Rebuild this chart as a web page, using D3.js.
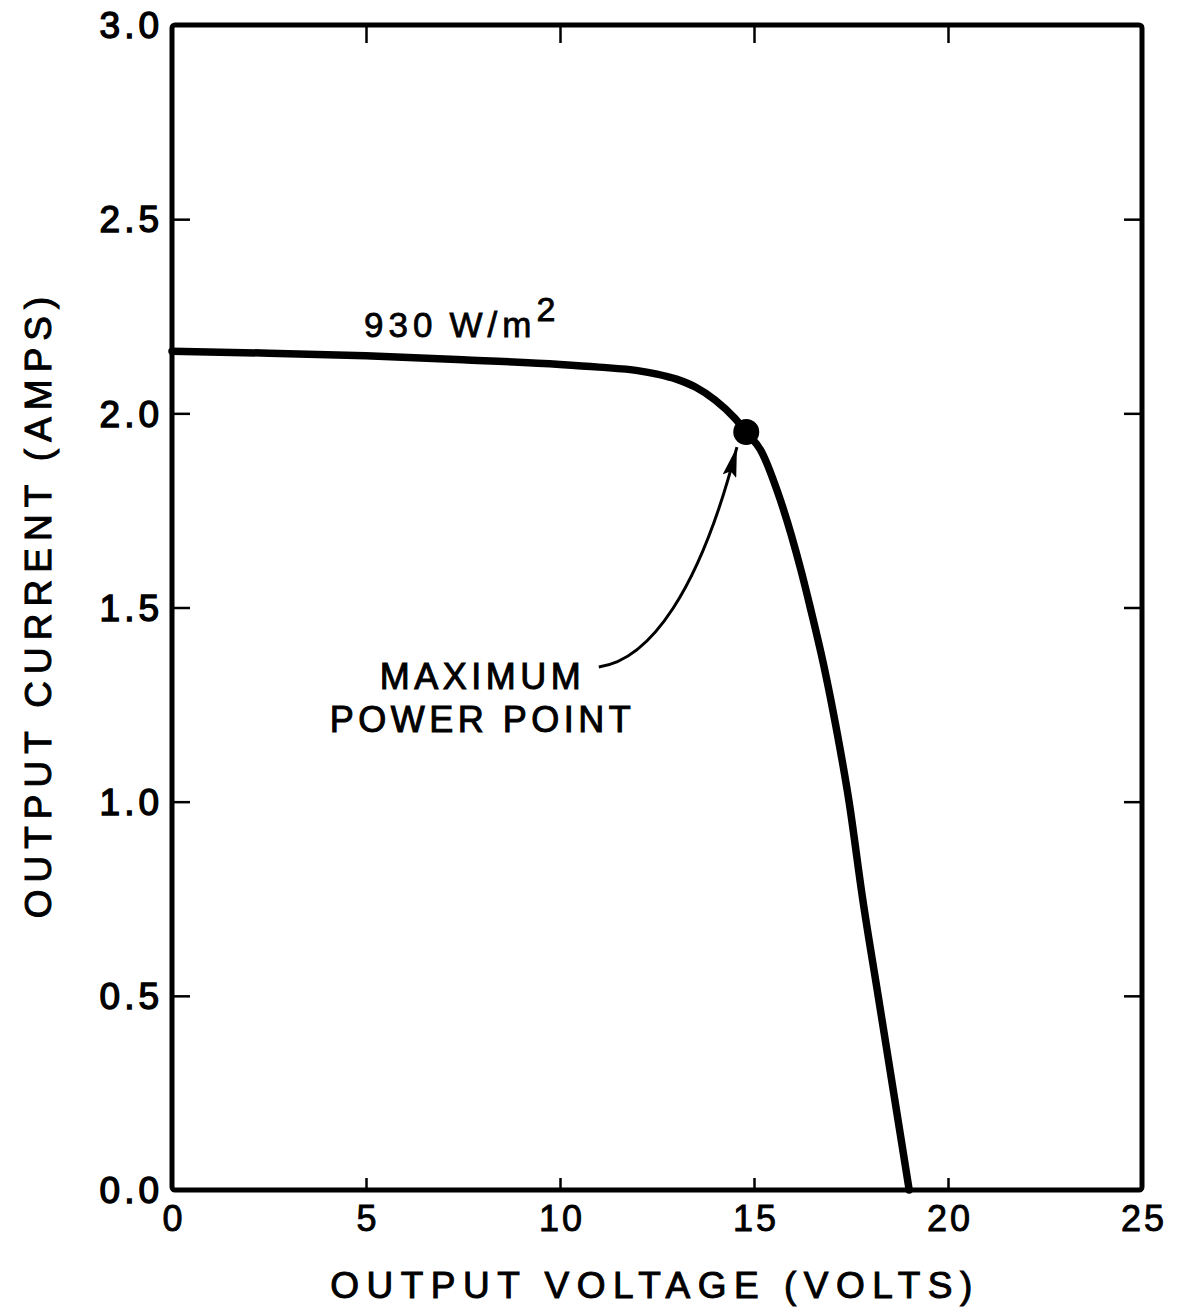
<!DOCTYPE html>
<html>
<head>
<meta charset="utf-8">
<script src="https://cdn.jsdelivr.net/npm/d3@7"></script>
<style>
  body { margin: 0; background: #fff; }
  text { font-family: "Liberation Sans", Arial, Helvetica, sans-serif; fill: #000; }
</style>
</head>
<body>
<svg id="chart" width="1178" height="1312"></svg>
<script>
// I-V curve (volts, amps)
const voltage = [0, 2.5, 5, 7.5, 10, 11, 12, 12.5, 13, 13.5, 14, 14.5, 14.8, 15.2, 15.6, 16.2, 16.45, 16.8, 17.1, 17.45, 17.8, 18.2, 18.6, 19.0];
const current = [2.16, 2.155, 2.148, 2.138, 2.126, 2.119, 2.11, 2.101, 2.088, 2.067, 2.034, 1.988, 1.952, 1.9, 1.8, 1.6, 1.5, 1.35, 1.2, 1.0, 0.75, 0.5, 0.25, 0.0];

const xTicks = [0, 5, 10, 15, 20, 25];
const yTicks = [0, 0.5, 1.0, 1.5, 2.0, 2.5, 3.0];

const maxPower = { v: 14.8, i: 1.952 };
const irradianceLabel = { v: 4.95, i: 2.197, text: '930\u2009W/m', sup: '2' };
const mppLabel = { v: 8.0, i: 1.29, lines: ['MAXIMUM', 'POWER POINT'] };
// arrow from the label up to the dot, cubic in data units
const arrowPts = [[11.0, 1.347], [12.32, 1.365], [13.61, 1.545], [14.56, 1.913]];

const svg = d3.select('#chart');
const plotL = 172, plotR = 1142, plotT = 25, plotB = 1190;

const x = d3.scaleLinear().domain([0, 25]).range([plotL, plotR]);
const y = d3.scaleLinear().domain([0, 3]).range([plotB, plotT]);

// heavier look for the old photocopied lettering
const ink = (sel, w) => sel.attr('stroke', '#000').attr('stroke-width', w).attr('paint-order', 'stroke');

// ticks: inward on all four sides
const tickW = 2.5;
const axisLeft = d3.axisLeft(y).tickValues(yTicks).tickSize(-18).tickFormat('');
const axisRight = d3.axisRight(y).tickValues(yTicks).tickSize(-18).tickFormat('');
const axisTop = d3.axisTop(x).tickValues(xTicks).tickSize(-18).tickFormat('');
const axisBottom = d3.axisBottom(x).tickValues(xTicks).tickSize(-12).tickFormat('');

[[axisLeft, `translate(${plotL},0)`], [axisRight, `translate(${plotR},0)`],
 [axisTop, `translate(0,${plotT})`], [axisBottom, `translate(0,${plotB})`]].forEach(([ax, tr]) => {
  const g = svg.append('g').attr('transform', tr).call(ax);
  g.select('.domain').remove();
  g.selectAll('line').attr('stroke', '#000').attr('stroke-width', tickW);
});

// frame
svg.append('rect')
  .attr('x', plotL).attr('y', plotT)
  .attr('width', plotR - plotL).attr('height', plotB - plotT)
  .attr('rx', 3)
  .attr('fill', 'none').attr('stroke', '#000').attr('stroke-width', 5);

// tick labels
svg.append('g').selectAll('text')
  .data(yTicks).enter().append('text')
  .attr('x', plotL - 9).attr('y', (d) => y(d))
  .attr('dy', '0.36em')
  .attr('text-anchor', 'end')
  .style('font-size', '37px').style('letter-spacing', '4px')
  .text((d) => d.toFixed(1))
  .call(ink, 1.4);

svg.append('g').selectAll('text')
  .data(xTicks).enter().append('text')
  .attr('x', (d) => x(d) + 2).attr('y', plotB + 41)
  .attr('text-anchor', 'middle')
  .style('font-size', '36px').style('letter-spacing', '3px')
  .text((d) => d)
  .call(ink, 0.9);

// axis titles
svg.append('text')
  .attr('x', 655).attr('y', 1298)
  .attr('text-anchor', 'middle')
  .style('font-size', '37px').style('letter-spacing', '7.5px')
  .text('OUTPUT VOLTAGE (VOLTS)')
  .call(ink, 1.0);

svg.append('text')
  .attr('transform', 'translate(51, 604) rotate(-90)')
  .attr('text-anchor', 'middle')
  .style('font-size', '37px').style('letter-spacing', '7px')
  .text('OUTPUT CURRENT (AMPS)')
  .call(ink, 1.0);

// the curve
const pts = voltage.map((v, k) => [v, current[k]]);
svg.append('path')
  .datum(pts)
  .attr('d', d3.line().x((d) => x(d[0])).y((d) => y(d[1])).curve(d3.curveMonotoneX))
  .attr('fill', 'none').attr('stroke', '#000')
  .attr('stroke-width', 7.5).attr('stroke-linecap', 'round').attr('stroke-linejoin', 'round');

// maximum power point
svg.append('circle')
  .attr('cx', x(maxPower.v)).attr('cy', y(maxPower.i)).attr('r', 13)
  .attr('fill', '#000');

// irradiance label
const irr = svg.append('text')
  .attr('x', x(irradianceLabel.v)).attr('y', y(irradianceLabel.i))
  .style('font-size', '35px').style('letter-spacing', '5px')
  .call(ink, 0.8);
irr.append('tspan').text(irradianceLabel.text);
irr.append('tspan').attr('dy', -16).style('font-size', '34px').text(irradianceLabel.sup);

// annotation
const mpp = svg.append('text')
  .attr('x', x(mppLabel.v)).attr('y', y(mppLabel.i))
  .attr('text-anchor', 'middle')
  .style('font-size', '36px').style('letter-spacing', '4.5px')
  .call(ink, 1.0);
mppLabel.lines.forEach((line, k) => {
  mpp.append('tspan').attr('x', x(mppLabel.v)).attr('dy', k ? 43 : 0).text(line);
});

svg.append('defs').append('marker')
  .attr('id', 'head')
  .attr('viewBox', '0 0 30 14')
  .attr('refX', 30).attr('refY', 7)
  .attr('markerWidth', 30).attr('markerHeight', 14)
  .attr('markerUnits', 'userSpaceOnUse')
  .attr('orient', 'auto')
  .append('path').attr('d', 'M0,0 L30,7 L0,14 L5,7 Z').attr('fill', '#000');

const ap = d3.path();
const [p0, p1, p2, p3] = arrowPts.map(([v, i]) => [x(v), y(i)]);
ap.moveTo(...p0);
ap.bezierCurveTo(...p1, ...p2, ...p3);
svg.append('path')
  .attr('d', ap.toString())
  .attr('fill', 'none').attr('stroke', '#000').attr('stroke-width', 3)
  .attr('marker-end', 'url(#head)');
</script>
</body>
</html>
